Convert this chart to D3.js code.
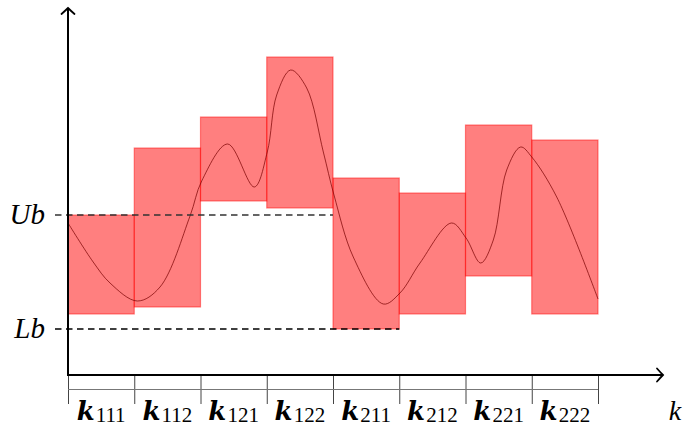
<!DOCTYPE html>
<html><head><meta charset="utf-8">
<script src="https://cdn.jsdelivr.net/npm/d3@7"></script>
<style>body{margin:0;background:#fff} svg{display:block}</style>
</head><body><svg id="c" width="683" height="427"></svg>
<script>
// ---- data ----
const categories = ["111","112","121","122","211","212","221","222"];
const barLow  = [61, 68, 174, 167, 46, 61, 99, 61];
const barHigh = [160, 227, 258, 318, 197, 182, 250, 235];
const boundLabels = ["Ub", "Lb"];
const boundValues = [160, 46];
const boundEnds   = [4, 5];          // dashed line runs up to this category boundary
const curveX = [0, 0.38, 0.634, 1.046, 1.389, 1.842, 2.018, 2.41, 2.812, 3.008, 3.15, 3.362, 3.603, 3.854, 4.015, 4.306, 4.759, 5.011, 5.313, 5.789, 6.008, 6.23, 6.42, 6.622, 6.833, 7.0, 7.377, 8.0];
const curveY = [152, 113, 92, 74, 88, 159, 194, 231, 188, 223, 280, 305, 287, 223, 180, 118, 71, 82, 112, 152, 137, 112, 135, 205, 228, 218, 178, 76];

// ---- scales ----
const svg = d3.select("#c");
const x = d3.scaleLinear().domain([0, categories.length]).range([68, 598]);
const y = d3.scaleLinear().domain([0, 367]).range([375, 8]);
const axisEnd = 663;

// bottom tick structure (boundaries)
const tickG = svg.append("g").attr("transform", `translate(0,${y(0)})`)
  .call(d3.axisBottom(x).ticks(categories.length).tickSize(29).tickFormat(""));
tickG.select(".domain").remove();
tickG.selectAll(".tick line").attr("stroke", "#444").attr("stroke-width", 1);
svg.append("line")
  .attr("x1", x(0)).attr("x2", x(categories.length))
  .attr("y1", y(0) + 14.5).attr("y2", y(0) + 14.5)
  .attr("stroke", "#777").attr("stroke-width", 1);

// bars
svg.append("g").selectAll("rect").data(categories).join("rect")
  .attr("x", (d, i) => x(i))
  .attr("width", (d, i) => x(i + 1) - x(i))
  .attr("y", (d, i) => y(barHigh[i]))
  .attr("height", (d, i) => y(barLow[i]) - y(barHigh[i]))
  .attr("fill", "rgba(255,0,0,0.5)")
  .attr("stroke", "rgba(255,0,0,0.45)")
  .attr("stroke-width", 1.2);

// curve
const pts = curveX.map((v, i) => [v, curveY[i]]);
svg.append("path")
  .attr("d", d3.line().x(d => x(d[0])).y(d => y(d[1])).curve(d3.curveCatmullRom.alpha(0.5))(pts))
  .attr("fill", "none")
  .attr("stroke", "rgba(120,0,0,0.7)")
  .attr("stroke-width", 1);

// bound dashed lines + labels
boundLabels.forEach((lab, i) => {
  svg.append("line")
    .attr("x1", x(0) - 13).attr("x2", x(boundEnds[i]))
    .attr("y1", y(boundValues[i])).attr("y2", y(boundValues[i]))
    .attr("stroke", i === 0 ? "#333" : "#000")
    .attr("stroke-width", 1.3)
    .attr("stroke-dasharray", "6.5,4.5");
  svg.append("text")
    .attr("x", 45).attr("y", y(boundValues[i]) + 9)
    .attr("text-anchor", "end")
    .attr("font-family", "'Liberation Serif', serif")
    .attr("font-style", "italic")
    .attr("font-size", 29)
    .text(lab);
});

// axes with arrows
function arrow(tx, ty, dir) {
  const p = dir === "up"
    ? `M${tx - 6.5},${ty + 6} Q${tx - 2},${ty + 2} ${tx},${ty} Q${tx + 2},${ty + 2} ${tx + 6.5},${ty + 6}`
    : `M${tx - 6},${ty - 6.5} Q${tx - 2},${ty - 2} ${tx},${ty} Q${tx - 2},${ty + 2} ${tx - 6},${ty + 6.5}`;
  svg.append("path").attr("d", p).attr("fill", "none").attr("stroke", "#000")
    .attr("stroke-width", 1.8).attr("stroke-linecap", "round");
}
svg.append("line").attr("x1", x(0)).attr("x2", x(0)).attr("y1", y(0) + 1).attr("y2", y(367))
  .attr("stroke", "#000").attr("stroke-width", 2);
svg.append("line").attr("x1", x(0) - 1).attr("x2", axisEnd).attr("y1", y(0)).attr("y2", y(0))
  .attr("stroke", "#000").attr("stroke-width", 2);
arrow(x(0), y(367), "up");
arrow(axisEnd, y(0), "right");

// category labels
const lbl = svg.append("g").selectAll("text").data(categories).join("text")
  .attr("x", (d, i) => (x(i) + x(i + 1)) / 2)
  .attr("y", 419.5)
  .attr("text-anchor", "middle")
  .attr("font-family", "'DejaVu Serif', serif");
lbl.append("tspan").attr("font-weight", "bold").attr("font-style", "italic").attr("font-size", 26).text("k");
lbl.append("tspan").attr("font-family", "'Liberation Serif', serif").attr("font-size", 21).attr("dx", 1).attr("dy", 2).text(d => d);

// axis label
svg.append("text").attr("x", 675).attr("y", 420).attr("text-anchor", "middle")
  .attr("font-family", "'Liberation Serif', serif").attr("font-style", "italic")
  .attr("font-size", 28).text("k");
</script></body></html>
